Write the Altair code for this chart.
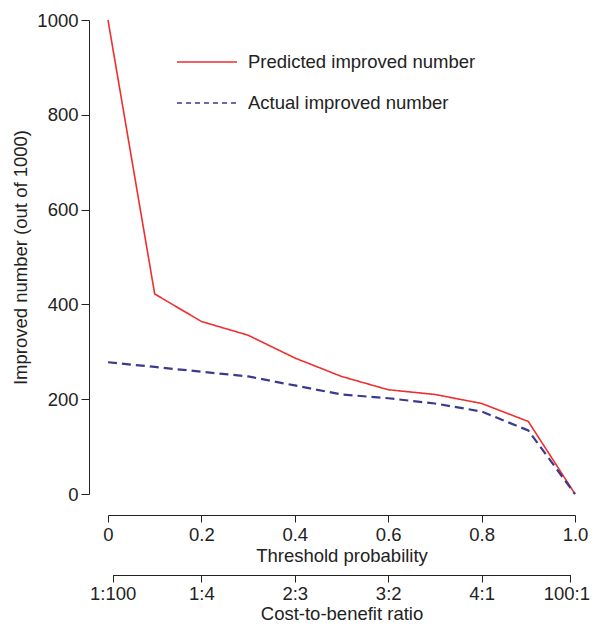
import altair as alt
import pandas as pd

# ---- data ----
thresholds = [0.0, 0.1, 0.2, 0.3, 0.4, 0.5, 0.6, 0.7, 0.8, 0.9, 1.0]
predicted = [1000, 422, 364, 335, 287, 248, 220, 210, 191, 153, 0]
actual = [278, 268, 258, 248, 229, 210, 202, 191, 174, 134, 0]
series_names = ["Predicted improved number", "Actual improved number"]
series_colors = ["#ee2f2f", "#3b3a8c"]
series_dash = [[1, 0], [9, 5]]
legend_dash = [[1, 0], [5, 4]]
series_width = [1.6, 2.2]

prob_ticks = [0, 0.2, 0.4, 0.6, 0.8, 1.0]
prob_labels = ["0", "0.2", "0.4", "0.6", "0.8", "1.0"]
ratio_ticks = [1 / 101, 0.2, 0.4, 0.6, 0.8, 100 / 101]
ratio_labels = ["1:100", "1:4", "2:3", "3:2", "4:1", "100:1"]
y_ticks = [0, 200, 400, 600, 800, 1000]

FONT = "Liberation Sans"
FS = 18.5
TXT = "#222222"
W, H = 467, 474

rows = []
for t, p, a in zip(thresholds, predicted, actual):
    rows.append({"t": t, "v": p, "s": series_names[0]})
    rows.append({"t": t, "v": a, "s": series_names[1]})
df = pd.DataFrame(rows)
ticks_df = pd.DataFrame({"r": ratio_ticks})
legend_df = pd.DataFrame({"k": series_names})


def label_expr(vals, labels):
    expr = "''"
    for v, l in reversed(list(zip(vals, labels))):
        expr = f"abs(datum.value - {v}) < 1e-6 ? '{l}' : {expr}"
    return expr


legend = alt.Legend(title=None, orient="none", legendX=68, legendY=11,
                    symbolType="stroke", symbolSize=3600,
                    symbolStrokeWidth=1.4,
                    labelOffset=10, rowPadding=-23,
                    padding=0, labelFontSize=FS,
                    labelFont=FONT, labelColor=TXT, labelLimit=400)

lines = alt.Chart(df).mark_line().encode(
    x=alt.X("t:Q",
            scale=alt.Scale(domain=[0, 1], nice=False, zero=False),
            axis=alt.Axis(orient="bottom", values=prob_ticks,
                          labelExpr=label_expr(prob_ticks, prob_labels),
                          title="Threshold probability", offset=21,
                          tickSize=7, labelPadding=3, titlePadding=3,
                          grid=False)),
    y=alt.Y("v:Q",
            scale=alt.Scale(domain=[0, 1000], nice=False),
            axis=alt.Axis(values=y_ticks, format="d",
                          title="Improved number (out of 1000)", offset=19,
                          tickSize=8, labelPadding=3, titlePadding=6,
                          grid=False)),
    color=alt.Color("s:N",
                    scale=alt.Scale(domain=series_names, range=series_colors),
                    legend=None),
    strokeDash=alt.StrokeDash("s:N",
                              scale=alt.Scale(domain=series_names, range=series_dash),
                              legend=None),
    strokeWidth=alt.StrokeWidth("s:N",
                                scale=alt.Scale(domain=series_names, range=series_width),
                                legend=None),
)

# legend-only layer (draws nothing; its scales feed the legend)
legend_layer = alt.Chart(legend_df).transform_filter("false").mark_line(strokeWidth=1.4).encode(
    color=alt.Color("k:N",
                    scale=alt.Scale(domain=series_names, range=series_colors),
                    legend=legend),
    strokeDash=alt.StrokeDash("k:N",
                              scale=alt.Scale(domain=series_names, range=legend_dash),
                              legend=legend),
)

ratio_axis = alt.Chart(ticks_df).mark_point(opacity=0).encode(
    x=alt.X("r:Q",
            scale=alt.Scale(domain=[ratio_ticks[0], ratio_ticks[-1]],
                            range=[W * ratio_ticks[0], W * ratio_ticks[-1]],
                            nice=False, zero=False),
            axis=alt.Axis(orient="bottom", values=ratio_ticks,
                          labelExpr=label_expr(ratio_ticks, ratio_labels),
                          labelOffset={"condition": {"test": "datum.value > 0.9", "value": -4},
                                       "value": 0},
                          title="Cost-to-benefit ratio", offset=81,
                          tickSize=7, labelPadding=2, titlePadding=2,
                          grid=False)),
)

chart = alt.layer(lines, ratio_axis, legend_layer).resolve_scale(
    x="independent", color="independent", strokeDash="independent"
).properties(
    width=W, height=H,
    autosize=alt.AutoSizeParams(type="none"),
    padding={"left": 100, "top": 12, "right": 16, "bottom": 130},
    background="white",
).configure_view(stroke=None).configure_axis(
    labelFont=FONT, titleFont=FONT, labelFontSize=FS, titleFontSize=FS,
    titleFontWeight="normal", labelColor=TXT, titleColor=TXT,
    domainColor=TXT, tickColor=TXT, domainWidth=1, tickWidth=1,
    labelFlush=False, labelOverlap=False,
)

chart.save("out.html", embed_options={"renderer": "svg", "actions": False})
